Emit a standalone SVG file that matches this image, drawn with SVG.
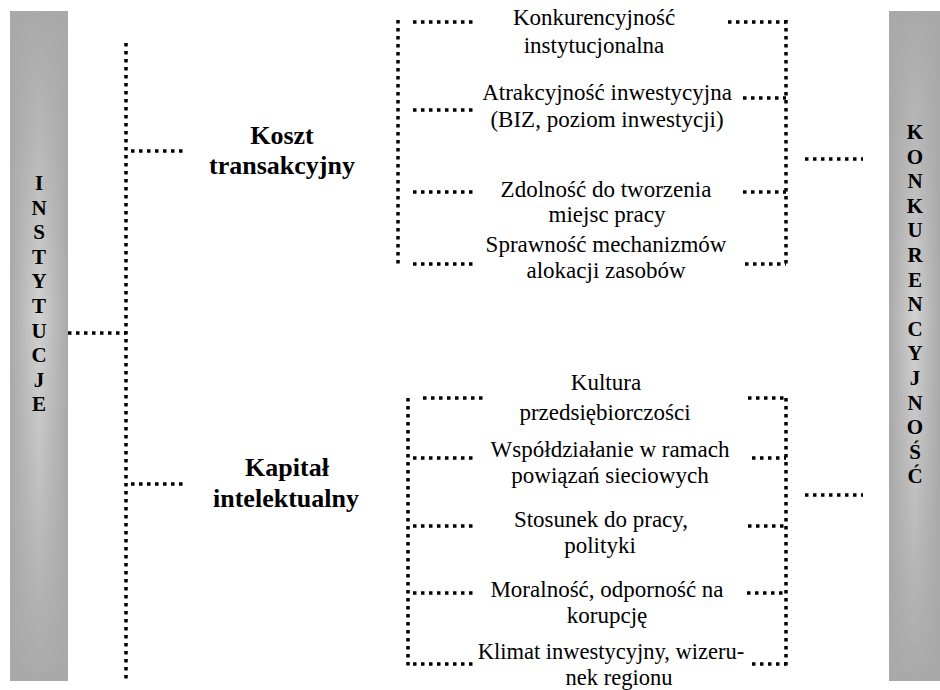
<svg xmlns="http://www.w3.org/2000/svg" width="940" height="690" viewBox="0 0 940 690">
<defs>
<linearGradient id="barH" x1="0" y1="0" x2="1" y2="0">
<stop offset="0" stop-color="#a9a9a9"/>
<stop offset="0.5" stop-color="#d2d2d2"/>
<stop offset="1" stop-color="#a9a9a9"/>
</linearGradient>
<linearGradient id="barV" x1="0" y1="0" x2="0" y2="1">
<stop offset="0" stop-color="#a9a9a9" stop-opacity="1"/>
<stop offset="0.2" stop-color="#a9a9a9" stop-opacity="0.6"/>
<stop offset="0.45" stop-color="#a9a9a9" stop-opacity="0"/>
<stop offset="0.7" stop-color="#a9a9a9" stop-opacity="0.4"/>
<stop offset="1" stop-color="#a9a9a9" stop-opacity="1"/>
</linearGradient>
</defs>
<style>
.dot{fill:none;stroke:#000;stroke-width:3.5;stroke-dasharray:3.5 4.5}
text{font-family:'Liberation Serif','DejaVu Serif',serif;fill:#000;text-anchor:middle}
.v{font-weight:bold;font-size:21px}
.b{font-weight:bold;font-size:26px}
.t{font-size:23px}
.s{font-size:22.5px}
</style>
<rect width="940" height="690" fill="#fff"/>

<g id="instytucje">
<rect x="10" y="11" width="58" height="670" fill="url(#barH)"/>
<rect x="10" y="11" width="58" height="670" fill="url(#barV)"/>
<text class="v" x="39" y="190">I</text>
<text class="v" x="39" y="214.6">N</text>
<text class="v" x="39" y="239.2">S</text>
<text class="v" x="39" y="263.8">T</text>
<text class="v" x="39" y="288.4">Y</text>
<text class="v" x="39" y="313">T</text>
<text class="v" x="39" y="337.6">U</text>
<text class="v" x="39" y="362.2">C</text>
<text class="v" x="39" y="386.8">J</text>
<text class="v" x="39" y="411.4">E</text>
</g>

<g id="konkurencyjnosc">
<rect x="889" y="11" width="51" height="670" fill="url(#barH)"/>
<rect x="889" y="11" width="51" height="670" fill="url(#barV)"/>
<text class="v" x="915" y="139">K</text>
<text class="v" x="915" y="163.6">O</text>
<text class="v" x="915" y="188.2">N</text>
<text class="v" x="915" y="212.8">K</text>
<text class="v" x="915" y="237.4">U</text>
<text class="v" x="915" y="262">R</text>
<text class="v" x="915" y="286.6">E</text>
<text class="v" x="915" y="311.2">N</text>
<text class="v" x="915" y="335.8">C</text>
<text class="v" x="915" y="360.4">Y</text>
<text class="v" x="915" y="385">J</text>
<text class="v" x="915" y="409.6">N</text>
<text class="v" x="915" y="434.2">O</text>
<text class="v" x="915" y="458.8">Ś</text>
<text class="v" x="915" y="483.4">Ć</text>
</g>

<g id="koszt">
<text class="b" x="282" y="144">Koszt</text>
<text class="b" x="282" y="174">transakcyjny</text>
</g>
<g id="kapital">
<text class="b" x="287" y="476">Kapitał</text>
<text class="b" x="286" y="507">intelektualny</text>
</g>

<g id="k1"><text class="t" x="594" y="25">Konkurencyjność</text><text class="t" x="594" y="53">instytucjonalna</text></g>
<g id="k2"><text class="t" x="607" y="100">Atrakcyjność inwestycyjna</text><text class="t" x="607" y="127">(BIZ, poziom inwestycji)</text></g>
<g id="k3"><text class="t" x="606" y="197">Zdolność do tworzenia</text><text class="t" x="607" y="222">miejsc pracy</text></g>
<g id="k4"><text class="t" x="606" y="252">Sprawność mechanizmów</text><text class="t" x="606" y="278">alokacji zasobów</text></g>

<g id="c1"><text class="t" x="606" y="390">Kultura</text><text class="t" x="605" y="420">przedsiębiorczości</text></g>
<g id="c2"><text class="t" x="610" y="457">Współdziałanie w ramach</text><text class="t" x="610" y="483">powiązań sieciowych</text></g>
<g id="c3"><text class="t" x="601" y="527">Stosunek do pracy,</text><text class="t" x="600" y="553">polityki</text></g>
<g id="c4"><text class="t" x="607" y="597">Moralność, odporność na</text><text class="t" x="607" y="623">korupcję</text></g>
<g id="c5"><text class="s" x="611" y="659">Klimat inwestycyjny, wizeru-</text><text class="s" x="619" y="685">nek regionu</text></g>

<g id="connectors">
<path class="dot" d="M126 43V682"/>
<path class="dot" d="M68 333H126"/>
<path class="dot" d="M131 151H183"/>
<path class="dot" d="M131 484H183"/>

<path class="dot" d="M398 20V264"/>
<path class="dot" d="M413 22H473M413 110H473M413 192H473M413 264H473"/>
<path class="dot" d="M728 22H786M743 98H786M743 192H786M745 264H786"/>
<path class="dot" d="M786 20V266"/>

<path class="dot" d="M408 398V666"/>
<path class="dot" d="M423 398H483M413 458H473M413 526H473M413 593H473M413 664H473"/>
<path class="dot" d="M748 398H786M752 458H786M748 526H786M747 593H786M752 664H786"/>
<path class="dot" d="M786 398V666"/>

<path class="dot" d="M805 159H863"/>
<path class="dot" d="M805 495H863"/>
</g>
</svg>
